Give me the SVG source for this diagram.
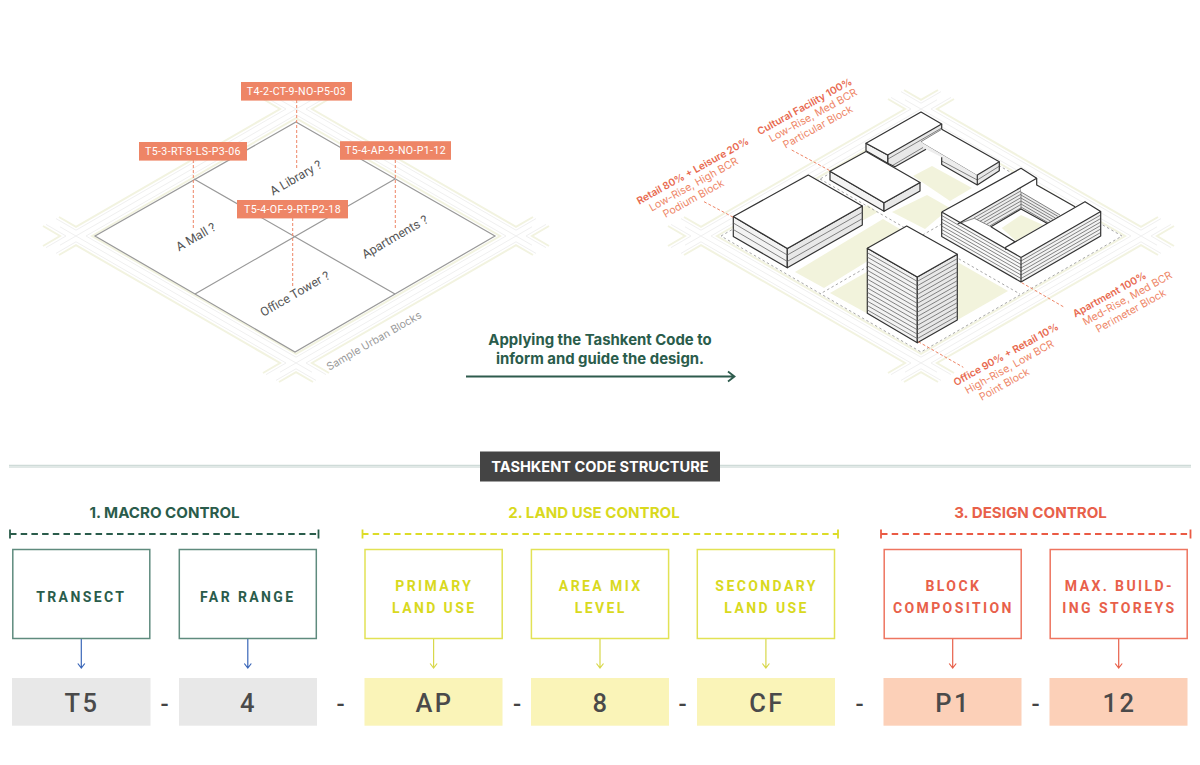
<svg xmlns="http://www.w3.org/2000/svg" width="1200" height="765" viewBox="0 0 1200 765">
<style>
text{font-family:"Roboto","Liberation Sans",sans-serif}
.o{fill:none;stroke:#f2f3e0;stroke-width:2}
.g{fill:none;stroke:#f0f0f0;stroke-width:1}
.q{font-family:"Inter","Liberation Sans",sans-serif;font-size:12.4px;fill:#555;text-anchor:middle}
.tag rect{fill:#ee8566}
.tag text{fill:#fff;font-size:10.6px;letter-spacing:.35px;text-anchor:middle}
.lead{fill:none;stroke:#ee8566;stroke-width:1;stroke-dasharray:3 2}
.land{fill:#f2f3dc}
.dash{fill:none;stroke:#a8a8a8;stroke-width:1;stroke-dasharray:2.5 2.5}
.top{fill:#fff;stroke:#333;stroke-width:1.2;stroke-linejoin:round}
.l{fill:#f3f3f3;stroke:#333;stroke-width:1.2;stroke-linejoin:round}
.r{fill:#e8e8e8;stroke:#333;stroke-width:1.2;stroke-linejoin:round}
.fl{fill:none;stroke:#666;stroke-width:.8}
.edge{fill:none;stroke:#333;stroke-width:1.2;stroke-linejoin:round}
.lb{font-family:"Inter","Liberation Sans",sans-serif;font-size:10.5px;text-anchor:middle;fill:#ee8566}
.lh{font-family:"Inter","Liberation Sans",sans-serif;font-size:10.1px;font-weight:600;text-anchor:middle;fill:#e8694f}
.h{font-family:"Inter","Liberation Sans",sans-serif;font-weight:700;font-size:15.1px;text-anchor:middle}
.cap{font-family:"Inter","Liberation Sans",sans-serif;font-weight:700;font-size:14.9px;text-anchor:middle;fill:#2a5c4b}
.box{fill:#fff;stroke-width:1.5}
.bt{font-weight:700;font-size:14px;letter-spacing:2.4px;text-anchor:middle}
.val{font-weight:500;font-size:25.5px;letter-spacing:2.4px;text-anchor:middle;fill:#4a4a4a}
.sep{font-weight:500;font-size:24px;text-anchor:middle;fill:#444}
.dk{fill:#2a5c4b}.ye{fill:#d9d91e}.re{fill:#e8604a}
.ds{fill:none;stroke-width:1.8;stroke-dasharray:6.5 4.2}
.tk{fill:none;stroke-width:1.8}
.ar{fill:none;stroke-width:1.2}
</style>
<defs>
<g id="roads">
<path class="g" d="M60,245.2L312,99.8M280,99.8L532,245.2M60,226.8L312,372.2M280,372.2L532,226.8"/>
<path class="g" d="M86,236L296,114.8L506,236L296,357.2ZM56,218.6L76,230.2L286,109L266,97.4M326,97.4L306,109L516,230.2L536,218.6M56,253.4L76,241.8L286,363L266,374.6M326,374.6L306,363L516,241.8L536,253.4M46,224.4L66,236L46,247.6M546,224.4L526,236L546,247.6M276,91.6L296,103.2L316,91.6M276,380.4L296,368.8L316,380.4"/>
<path class="o" d="M92,236L296,118.2L500,236L296,353.8ZM59,217L76,226.8L280,109L263,99M329,99L312,109L516,226.8L533,217M59,255L76,245.2L280,363L263,373M329,373L312,363L516,245.2L533,255M43,226L60,236L43,246M549,226L532,236L549,246M279,90L296,99.8L313,90M279,382L296,372.2L313,382"/>
</g>
<polyline id="a" class="fl" points="941.7,212 1021,257.5 1100.7,211.5"/>
<polyline id="tw" class="fl" points="867.3,248.3 917.3,277 957.3,254.3"/>
</defs>

<g id="site-left">
<use href="#roads"/>
<path fill="#fff" stroke="#999" stroke-width="1.2" d="M296,122L495,236L295,352L95,236Z"/>
<path fill="none" stroke="#999" stroke-width="1.2" d="M194,179L395,294M395,179L195,294"/>
<g class="q">
<text x="296" y="182" transform="rotate(-30 296 178)">A Library ?</text>
<text x="196" y="241" transform="rotate(-30 196 237)">A Mall ?</text>
<text x="395" y="241" transform="rotate(-30 395 237)">Apartments ?</text>
<text x="295" y="298" transform="rotate(-30 295 294)">Office Tower ?</text>
</g>
<text class="q" style="font-size:10.6px;fill:#999" x="374" y="344.5" transform="rotate(-30 374 341)">Sample Urban Blocks</text>
</g>

<g id="site-right">
<use href="#roads" x="625"/>
<path class="land" d="M795,272L883,219L910,235L824,288Z"/>
<path class="land" d="M830,293L921,241L1008,291L919,342Z"/>
<path class="land" d="M892,212L927,195L950,208L925,229Z"/>
<path class="land" d="M913,176L932,166L972,188L950,201Z"/>
<path class="land" d="M860,222L878,212L868,205L860,208Z"/>
<path class="dash" d="M721,236L921,121L1122,236L921,352ZM820,179L1020,294M1020,179L820,294"/>

<g id="bldg-cultural">
<path fill="#ededed" d="M921,141.7L977.3,175V185L941.7,164.5V157.3L926,149.3Z"/>
<path class="fl" d="M921,141.7L977.3,175"/>
<path fill="#e8e8e8" d="M977.3,175L999.3,161.7V170.7L977.3,185Z"/>
<path class="fl" d="M977.3,180L999.3,166.2M941.7,161L977.3,180"/>
<path class="edge" d="M941.7,157.3V164.5L977.3,185L999.3,170.7V161.7M977.3,175V185"/>
<path fill="#fff" d="M921,141.7L941.7,129.3L999.3,161.7L977.3,175Z"/>
<path class="edge" d="M941.7,129.3L999.3,161.7L977.3,175"/>
<path fill="#e8e8e8" d="M887.7,155L941.7,124V129.3L921,141.7L926,149.3L895,166.7L887.7,163.3Z"/>
<path class="fl" d="M887.7,159.2L941.7,128M892.5,165.5L923,147.5M921,141.7L941.7,129.3"/>
<path class="edge" d="M887.7,155V163.3L895,166.7L926,149.3M941.7,124V129.3"/>
<path class="l" d="M866,143.3L887.7,155V163.3L866,150.7Z"/>
<path class="top" d="M866,143.3L921,112L941.7,124L887.7,155Z"/>
<path class="l" d="M830,171.2L884,202.8V211.3L830,180Z"/>
<path class="r" d="M884,202.8L920,182.5V191L884,211.3Z"/>
<path class="top" d="M830,171.2L866,151.5L920,182.5L884,202.8Z"/>
</g>

<g id="bldg-retail">
<path class="l" d="M733.3,216.5L787.3,248.5V267.7L733.3,236.5Z"/>
<path class="r" d="M787.3,248.5L862.3,206V225L787.3,267.7Z"/>
<path class="fl" d="M733.3,223L787.3,255L862.3,212.4M733.3,229.5L787.3,261.4L862.3,218.7"/>
<path class="top" d="M733.3,216.5L808.3,175L862.3,206L787.3,248.5Z"/>
</g>

<g id="bldg-apartment">
<path fill="#fff" d="M941.7,212L1021,168.3L1036.7,178.3V185L1075,206.7L1085,201.7L1100.7,211.5V236L1021,282L941.7,236.5Z"/>
<path class="land" d="M1001.7,228L1021,215L1043,225L1016,241Z"/>
<path fill="#ececec" d="M957.7,224L1021,187.4V209L991,226.7L974.3,218.3Z"/>
<path fill="#ececec" d="M1021,190L1060,215L1047,223.3L1021,209Z"/>
<path class="fl" d="M973.9,218L1021,190.8M977,219.6L1021,194.2M980,221.3L1021,197.6M983.7,222.4L1021,201M986.8,224.2L1021,204.4M990,225.8L1021,207.8"/>
<path class="fl" d="M1021,195L1057.8,216.3M1021,198L1055.4,218M1021,201L1052.9,219.4M1021,204L1050.4,221M1021,207L1048,222.6M1021,187.4V209"/>
<path fill="#fff" d="M941.7,212L1021,168.3L1036.7,178.3L957.7,224Z"/>
<path fill="#fff" d="M957.7,224L974.3,218.3L1015,241.7L1005.7,247.3V251L941.7,212Z"/>
<path fill="#fff" d="M1036.7,178.3V185L1075,206.7L1060,215L1021,192V187.4Z"/>
<path fill="#fff" d="M1005.7,247.3L1085,201.7L1100.7,211.5L1021,257.5L1005.7,250Z"/>
<path class="fl" d="M957.7,224L974.3,218.3L991,226.7"/>
<path class="fl" d="M1021,192L1060,215"/>
<path fill="#e8e8e8" fill-opacity=".55" d="M1021,257.5L1100.7,211.5V236L1021,282Z"/>
<path fill="#f3f3f3" fill-opacity=".5" d="M941.7,212L1021,257.5V282L941.7,236.5Z"/>
<use href="#a" y="3.5"/><use href="#a" y="7"/><use href="#a" y="10.5"/><use href="#a" y="14"/><use href="#a" y="17.5"/><use href="#a" y="21"/>
<path class="edge" d="M941.7,212L1021,168.3L1036.7,178.3V185L1075,206.7M957.7,224L1036.7,178.3M991,226.7L1021,209L1047,223.3M991,226.7L1015,241.7L1005.7,247.3V250M1005.7,247.3L1085,201.7L1100.7,211.5L1021,257.5L941.7,212M941.7,212V236.5L1021,282L1100.7,236V211.5M1021,257.5V282"/>
</g>

<g id="bldg-office">
<path class="l" d="M867.3,248.3L917.3,277V342.7L867.3,313.3Z"/>
<path class="r" d="M917.3,277L957.3,254.3V320L917.3,342.7Z"/>
<use href="#tw" y="4.4"/><use href="#tw" y="8.8"/><use href="#tw" y="13.2"/><use href="#tw" y="17.6"/><use href="#tw" y="22"/><use href="#tw" y="26.4"/><use href="#tw" y="30.8"/><use href="#tw" y="35.2"/><use href="#tw" y="39.6"/><use href="#tw" y="44"/><use href="#tw" y="48.4"/><use href="#tw" y="52.8"/><use href="#tw" y="57.2"/><use href="#tw" y="61.6"/>
<path class="top" d="M867.3,248.3L906.7,226L957.3,254.3L917.3,277Z"/>
</g>
<g id="labels-right">
<text class="lh" x="692.5" y="174.5" transform="rotate(-29 692.5 170.7)">Retail 80% + Leisure 20%</text>
<text class="lb" x="693.3" y="188" transform="rotate(-29 693.3 184)">Low-Rise, High BCR</text>
<text class="lb" x="693.3" y="202" transform="rotate(-29 693.3 198.3)">Podium Block</text>
<text class="lh" x="804.3" y="110" transform="rotate(-29 804.3 106)">Cultural Facility 100%</text>
<text class="lb" x="812.7" y="119" transform="rotate(-29 812.7 115)">Low-Rise, Med BCR</text>
<text class="lb" x="817.7" y="130.5" transform="rotate(-29 817.7 126.7)">Particular Block</text>
<text class="lh" x="1109.3" y="298" transform="rotate(-29 1109.3 294)">Apartment 100%</text>
<text class="lb" x="1127.3" y="302" transform="rotate(-29 1127.3 298.3)">Med-Rise, Med BCR</text>
<text class="lb" x="1130.7" y="314.5" transform="rotate(-29 1130.7 310.7)">Perimeter Block</text>
<text class="lh" x="1005.7" y="358" transform="rotate(-29 1005.7 354)">Office 90% + Retail 10%</text>
<text class="lb" x="1009.3" y="370.5" transform="rotate(-29 1009.3 366.7)">High-Rise, Low BCR</text>
<text class="lb" x="1004" y="388" transform="rotate(-29 1004 384)">Point Block</text>
</g>
</g>

<g id="connectors">
<path class="lead" d="M296.7,100V170M193.3,160V230M395.3,160V229M292.7,218V288"/>
<path class="lead" d="M704,201.7L733.3,217.3M791.7,150L830,170.7M1021.7,282.7L1063.3,306.7M918.3,341.7L963.3,367.3"/>
<path fill="none" stroke="#2e5b4d" stroke-width="1.8" d="M466,376.5H734M728,371.5L734.5,376.5L728,381.5"/>
<path class="ar" stroke="#3a66b8" d="M81.3,638.7V668M77.8,663.5L81.3,668L84.8,663.5M247.8,638.7V668M244.3,663.5L247.8,668L251.3,663.5"/>
<path class="ar" stroke="#d8d84a" d="M433.6,638.7V668M430.1,663.5L433.6,668L437.1,663.5M600,638.7V668M596.5,663.5L600,668L603.5,663.5M765.9,638.7V668M762.4,663.5L765.9,668L769.4,663.5"/>
<path class="ar" stroke="#e8604a" d="M952.7,638.7V668M949.2,663.5L952.7,668L956.2,663.5M1118.7,638.7V668M1115.2,663.5L1118.7,668L1122.2,663.5"/>
</g>

<g id="tags" class="tag">
<g id="tag-library"><rect x="241" y="82" width="111" height="18.6"/><text x="296.5" y="95.2">T4-2-CT-9-NO-P5-03</text></g>
<g id="tag-mall"><rect x="139" y="142" width="108" height="18.6"/><text x="193" y="155.2">T5-3-RT-8-LS-P3-06</text></g>
<g id="tag-apartments"><rect x="340" y="141.2" width="111" height="18.6"/><text x="395.5" y="154.4">T5-4-AP-9-NO-P1-12</text></g>
<g id="tag-office"><rect x="237" y="200" width="111" height="18.4"/><text x="292.5" y="213">T5-4-OF-9-RT-P2-18</text></g>
</g>

<g id="caption">
<text class="cap" x="600" y="344.5">Applying the Tashkent Code to</text>
<text class="cap" x="600" y="363.5">inform and guide the design.</text>
</g>

<g id="section-title">
<path fill="none" stroke="#b4c6c1" stroke-width=".8" d="M9,465.3H480M9,467H480M720,465.3H1191M720,467H1191"/>
<rect x="480" y="451.5" width="240" height="30" fill="#444"/>
<text class="cap" style="fill:#fff;font-size:14.6px" x="600" y="472">TASHKENT CODE STRUCTURE</text>
</g>

<g id="group-macro">
<text class="h dk" x="164.5" y="518.3">1. MACRO CONTROL</text>
<path class="ds" stroke="#2a5c4b" d="M10,534H318"/><path class="tk" stroke="#2a5c4b" d="M10,529.5V538.5M318.5,529.5V538.5"/>
</g>
<g id="group-landuse">
<text class="h ye" x="594" y="518.3">2. LAND USE CONTROL</text>
<path class="ds" stroke="#dcdc28" d="M362,534H838"/><path class="tk" stroke="#dcdc28" d="M362.5,529.5V538.5M838,529.5V538.5"/>
</g>
<g id="group-design">
<text class="h re" x="1030.5" y="518.3">3. DESIGN CONTROL</text>
<path class="ds" stroke="#ea5a44" d="M881,534H1190"/><path class="tk" stroke="#ea5a44" d="M881,529.5V538.5M1190.5,529.5V538.5"/>
</g>

<g id="n-transect"><rect class="box" stroke="#5f8b7e" x="12.8" y="549.5" width="137" height="89"/><text class="bt dk" x="81.3" y="602">TRANSECT</text></g>
<g id="n-far"><rect class="box" stroke="#5f8b7e" x="179.3" y="549.5" width="137" height="89"/><text class="bt dk" x="247.8" y="602">FAR RANGE</text></g>
<g id="n-primary"><rect class="box" stroke="#e2e255" x="365" y="549.5" width="137.2" height="89"/><text class="bt ye" x="434.3" y="591.2">PRIMARY</text><text class="bt ye" x="434.3" y="612.5">LAND USE</text></g>
<g id="n-mix"><rect class="box" stroke="#e2e255" x="531.4" y="549.5" width="137.2" height="89"/><text class="bt ye" x="600.7" y="591.2">AREA MIX</text><text class="bt ye" x="600.7" y="612.5">LEVEL</text></g>
<g id="n-secondary"><rect class="box" stroke="#e2e255" x="697.3" y="549.5" width="137.2" height="89"/><text class="bt ye" x="766.6" y="591.2">SECONDARY</text><text class="bt ye" x="766.6" y="612.5">LAND USE</text></g>
<g id="n-block"><rect class="box" stroke="#ee7560" x="884.2" y="549.5" width="137" height="89"/><text class="bt re" x="953.4" y="591.2">BLOCK</text><text class="bt re" x="953.4" y="612.5">COMPOSITION</text></g>
<g id="n-storeys"><rect class="box" stroke="#ee7560" x="1050.2" y="549.5" width="137" height="89"/><text class="bt re" x="1119.4" y="591.2">MAX. BUILD-</text><text class="bt re" x="1119.4" y="612.5">ING STOREYS</text></g>

<g id="v-t5"><rect fill="#e8e8e8" x="12" y="678" width="138.5" height="47.7"/><text class="val" x="82" y="711.7">T5</text></g>
<g id="v-4"><rect fill="#e8e8e8" x="179" y="678" width="138" height="47.7"/><text class="val" x="248.5" y="711.7">4</text></g>
<g id="v-ap"><rect fill="#faf4b8" x="364.5" y="678" width="138" height="47.7"/><text class="val" x="434.5" y="711.7">AP</text></g>
<g id="v-8"><rect fill="#faf4b8" x="531" y="678" width="138" height="47.7"/><text class="val" x="601" y="711.7">8</text></g>
<g id="v-cf"><rect fill="#faf4b8" x="697" y="678" width="138" height="47.7"/><text class="val" x="767" y="711.7">CF</text></g>
<g id="v-p1"><rect fill="#fcd0b8" x="883.5" y="678" width="138" height="47.7"/><text class="val" x="953" y="711.7">P1</text></g>
<g id="v-12"><rect fill="#fcd0b8" x="1049.5" y="678" width="138" height="47.7"/><text class="val" x="1119.5" y="711.7">12</text></g>

<g id="separators">
<text class="sep" x="164.6" y="712">-</text><text class="sep" x="340.6" y="712">-</text><text class="sep" x="517" y="712">-</text><text class="sep" x="682.7" y="712">-</text><text class="sep" x="859.5" y="712">-</text><text class="sep" x="1035.5" y="712">-</text>
</g>
</svg>
